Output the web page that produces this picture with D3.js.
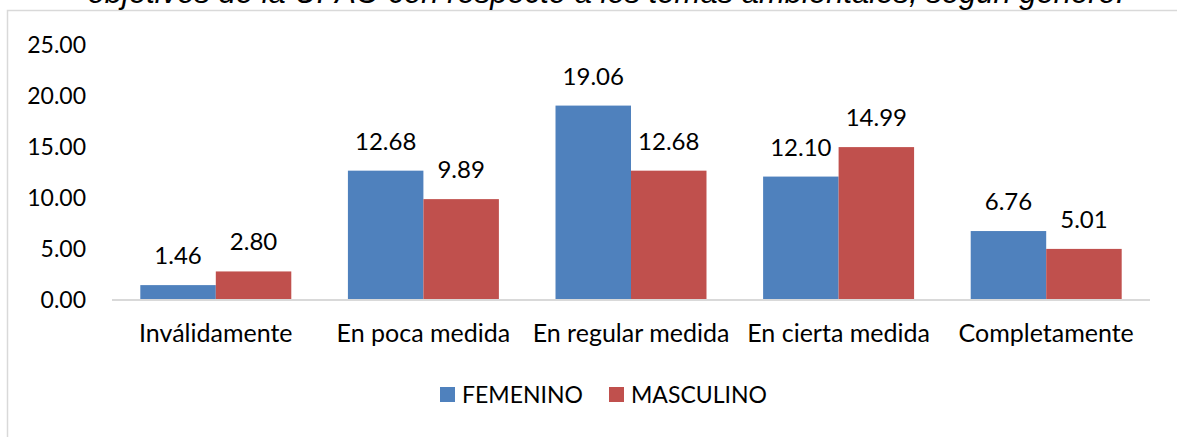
<!DOCTYPE html>
<html>
<head>
<meta charset="utf-8">
<script src="https://cdn.jsdelivr.net/npm/d3@7"></script>
<style>
  body { margin: 0; background: #fff; }
  text { font-family: Lato, "Liberation Sans", sans-serif; fill: #000; }
</style>
</head>
<body>
<div class="chart"></div>
<script>
const categories = ["Inválidamente", "En poca medida", "En regular medida", "En cierta medida", "Completamente"]
const seriesNames = ["FEMENINO", "MASCULINO"]
const femenino = [1.46, 12.68, 19.06, 12.10, 6.76]
const masculino = [2.80, 9.89, 12.68, 14.99, 5.01]
const yTicks = [0, 5, 10, 15, 20, 25]
const colors = ["#4F81BD", "#C0504D"]
const title = "objetivos de la UPAO con respecto a los temas ambientales, según género."

const width = 1177
const height = 437
const svg = d3.select(".chart").append("svg")
  .attr("width", width)
  .attr("height", height)

// chart frame (cut off on right and bottom)
svg.append("rect")
  .attr("x", 7.5).attr("y", 10.5)
  .attr("width", width + 20).attr("height", height + 20)
  .attr("fill", "none")
  .attr("stroke", "#D9D9D9")
  .attr("stroke-width", 1.5)

// title, mostly clipped above the frame (as in the source image)
svg.append("text")
  .attr("x", 606).attr("y", 2.5)
  .attr("text-anchor", "middle")
  .style("font-family", "'Liberation Sans', Arial, sans-serif")
  .style("font-style", "italic")
  .style("font-size", "31px")
  .text(title)

const x0 = d3.scaleBand().domain(categories).range([112, 1150]).paddingInner(0).paddingOuter(0)
const x1 = d3.scaleBand().domain(seriesNames).range([0, x0.bandwidth()]).paddingInner(0).paddingOuter(0.375)
const y = d3.scaleLinear().domain([0, 25]).range([300, 45])

const rows = categories.map((c, i) => ({ cat: c, vals: [femenino[i], masculino[i]] }))

// y axis labels
const yAxis = svg.append("g")
  .attr("transform", "translate(86,0)")
  .call(d3.axisLeft(y).tickValues(yTicks).tickFormat(d3.format(".2f")).tickSize(0).tickPadding(0))
yAxis.select(".domain").remove()
yAxis.selectAll("text")
  .style("font-family", "Lato, 'Liberation Sans', sans-serif")
  .style("font-size", "23px")
  .attr("fill", "#000")

const groups = svg.selectAll("g.grp")
  .data(rows)
  .join("g")
  .attr("class", "grp")
  .attr("transform", d => `translate(${x0(d.cat)},0)`)

groups.selectAll("rect")
  .data(d => d.vals.map((v, j) => ({ name: seriesNames[j], v, j })))
  .join("rect")
  .attr("x", d => x1(d.name))
  .attr("y", d => y(d.v))
  .attr("width", x1.bandwidth())
  .attr("height", d => y(0) - y(d.v))
  .attr("fill", d => colors[d.j])

groups.selectAll("text.val")
  .data(d => d.vals.map((v, j) => ({ name: seriesNames[j], v, j })))
  .join("text")
  .attr("class", "val")
  .attr("x", d => x1(d.name) + x1.bandwidth() / 2)
  .attr("y", d => y(d.v) - 21)
  .attr("text-anchor", "middle")
  .style("font-size", "24px")
  .text(d => d.v.toFixed(2))

// baseline
svg.append("line")
  .attr("x1", 112).attr("x2", 1150)
  .attr("y1", y(0)).attr("y2", y(0))
  .attr("stroke", "#D9D9D9")
  .attr("stroke-width", 2)

// category labels
const xAxis = svg.append("g")
  .attr("transform", `translate(0,${y(0)})`)
  .call(d3.axisBottom(x0).tickSize(0).tickPadding(0))
xAxis.select(".domain").remove()
xAxis.selectAll("text")
  .attr("dy", null)
  .attr("y", 42)
  .style("font-family", "Lato, 'Liberation Sans', sans-serif")
  .style("font-size", "25px")
  .attr("fill", "#000")

// legend
const legendX = [440, 609]
const legend = svg.selectAll("g.leg")
  .data(seriesNames)
  .join("g")
  .attr("class", "leg")
  .attr("transform", (d, i) => `translate(${legendX[i]},387)`)
legend.append("rect")
  .attr("width", 15).attr("height", 15)
  .attr("fill", (d, i) => colors[i])
legend.append("text")
  .attr("x", 22).attr("y", 16)
  .style("font-size", "23px")
  .text(d => d)
</script>
</body>
</html>
